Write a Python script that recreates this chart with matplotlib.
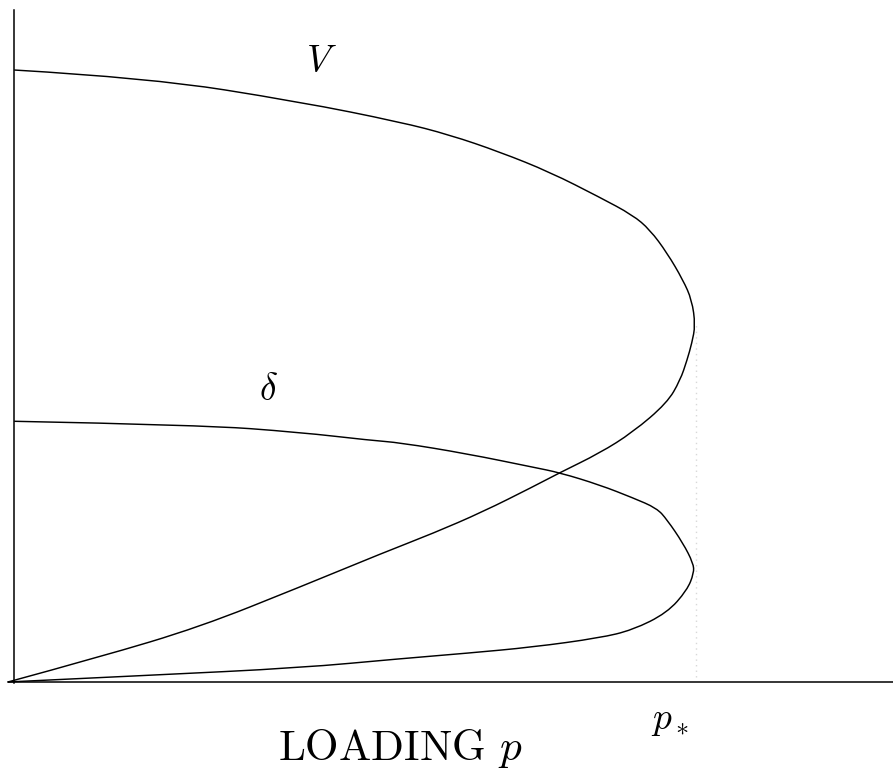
"""Load-deflection sketch: V and delta against the loading p, with the limit load p_*."""

import matplotlib

matplotlib.use("Agg")
import matplotlib.pyplot as plt
from matplotlib.patches import PathPatch
from matplotlib.path import Path

plt.rcParams["mathtext.fontset"] = "cm"
plt.rcParams["font.family"] = "serif"
plt.rcParams["font.serif"] = ["cmr10", "DejaVu Serif"]
plt.rcParams["axes.formatter.use_mathtext"] = True

# loading p (scaled so that p_* = 1) and response values along each branch
v_load = [0.009, 0.206, 0.424, 0.570, 0.642, 0.715, 0.788, 0.860, 0.908, 0.933,
          0.958, 0.981, 0.994, 0.999, 0.994, 0.987, 0.977, 0.958, 0.908, 0.860,
          0.802, 0.763, 0.690, 0.618, 0.545, 0.424, 0.279, 0.134, 0.0]
v_resp = [1.000, 0.987, 0.948, 0.915, 0.894, 0.866, 0.833, 0.792, 0.763, 0.739,
          0.701, 0.657, 0.624, 0.583, 0.554, 0.526, 0.493, 0.456, 0.408, 0.374,
          0.342, 0.319, 0.278, 0.243, 0.211, 0.155, 0.090, 0.041, 0.0]

d_load = [0.009, 0.279, 0.424, 0.526, 0.570, 0.667, 0.763, 0.802, 0.860, 0.908,
          0.943, 0.958, 0.981, 0.996, 0.997, 0.987, 0.958, 0.908, 0.860, 0.763,
          0.667, 0.570, 0.424, 0.206, 0.0]
d_resp = [0.426, 0.420, 0.408, 0.395, 0.391, 0.373, 0.351, 0.342, 0.322, 0.301,
          0.284, 0.265, 0.227, 0.194, 0.178, 0.150, 0.113, 0.085, 0.072, 0.057,
          0.047, 0.038, 0.023, 0.011, 0.0]

p_star = 1.0
p_star_top = 0.587


def smooth_path(xs, ys):
    """Quadratic Bezier path using the points as control points."""
    pts = list(zip(xs, ys))
    verts = [pts[0]]
    codes = [Path.MOVETO]
    for i in range(1, len(pts) - 1):
        mid = ((pts[i][0] + pts[i + 1][0]) / 2, (pts[i][1] + pts[i + 1][1]) / 2)
        if i == len(pts) - 2:
            mid = pts[-1]
        verts += [pts[i], mid]
        codes += [Path.CURVE3, Path.CURVE3]
    return Path(verts, codes)


fig = plt.figure(figsize=(8.93, 7.78), dpi=100)
ax = fig.add_axes([0, 0, 1, 1])
ax.set_xlim(-0.0116, 1.2863)
ax.set_ylim(-0.1569, 1.1144)
ax.axis("off")

# hand-drawn style axes
ax.plot([0.009, 0.009], [-0.002, 1.098], color="black", lw=1.1)
ax.plot([0.0, 1.2863], [0.0, 0.0], color="black", lw=1.1)

for xs, ys in [(v_load, v_resp), (d_load, d_resp)]:
    ax.add_patch(PathPatch(smooth_path(xs, ys), facecolor="none",
                           edgecolor="black", lw=1.05))

ax.plot([p_star, p_star], [0.008, p_star_top], color="#d8d8d8", lw=1.0,
        linestyle=(0, (1, 3)))

ax.text(0.456, 1.013, "$V$", fontsize=27, ha="center", va="center")
ax.text(0.378, 0.477, r"$\delta$", fontsize=27, ha="center", va="center")
ax.text(0.962, -0.065, "$p_*$", fontsize=27, ha="center", va="center")
ax.text(0.570, -0.108, "LOADING $p$", fontsize=31, ha="center", va="center")

fig.savefig("out.png", dpi=100)
plt.close(fig)
